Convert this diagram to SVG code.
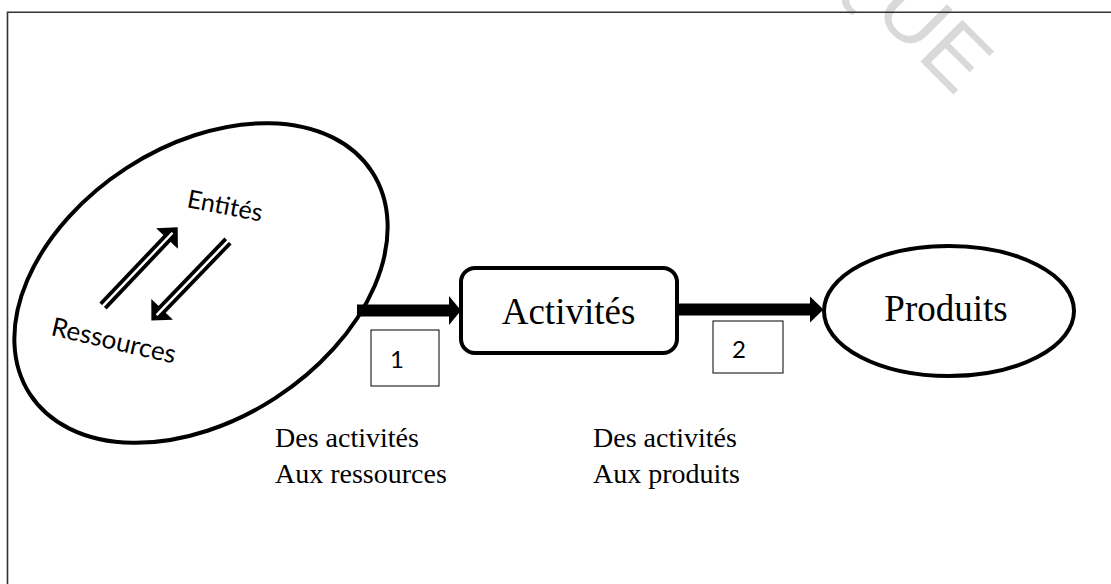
<svg xmlns="http://www.w3.org/2000/svg" width="1111" height="584" viewBox="0 0 1111 584">
  <style>
    .frame { stroke: #333; stroke-width: 1.6; fill: none; }
    .node { fill: #fff; stroke: #000; stroke-width: 4; }
    .serif { font-family: "Liberation Serif", "Times New Roman", serif; fill: #000; }
    .sans { font-family: Lato, "Liberation Sans", sans-serif; fill: #000; }
    .tag { fill: #fff; stroke: #000; stroke-width: 1; }
    .shaft { stroke: #000; stroke-width: 12; }
    .dbl { stroke: #000; stroke-width: 10; }
    .slit { stroke: #fff; stroke-width: 2.5; }
    .wm { font-family: "Liberation Sans", Arial, sans-serif; fill: #d9d9d9; }
  </style>
  <rect width="1111" height="584" fill="#fff"/>
  <text class="wm" font-size="86" text-anchor="end" transform="translate(956,97) rotate(45)">QUE</text>
  <path class="frame" d="M1111 12.3 H7.5 V584"/>

  <g id="ressources-entites">
    <ellipse class="node" cx="201" cy="283" rx="204" ry="137" transform="rotate(-33 201 283)"/>
    <text class="sans" font-size="25" transform="translate(186,207) rotate(11)">Entités</text>
    <text class="sans" font-size="26" transform="translate(50,335) rotate(13)">Ressources</text>
    <g transform="translate(103,306) rotate(-46.5)">
      <line class="dbl" x1="0" y1="0" x2="97" y2="0"/>
      <polygon points="108.5,0 93,-15 93,15" fill="#000"/>
      <line class="slit" x1="-2" y1="0" x2="101" y2="0"/>
    </g>
    <g transform="translate(228,241) rotate(133.9)">
      <line class="dbl" x1="0" y1="0" x2="99" y2="0"/>
      <polygon points="110.5,0 95,-15 95,15" fill="#000"/>
      <line class="slit" x1="-2" y1="0" x2="103" y2="0"/>
    </g>
  </g>

  <g id="activites">
    <rect class="node" x="461" y="268" width="216" height="85" rx="14"/>
    <text class="serif" font-size="37" x="568.5" y="324" text-anchor="middle">Activités</text>
  </g>

  <g id="produits">
    <ellipse class="node" cx="949" cy="311" rx="125" ry="65"/>
    <text class="serif" font-size="37" x="946" y="321" text-anchor="middle">Produits</text>
  </g>

  <g id="connectors">
    <line class="shaft" x1="357" y1="310.5" x2="451" y2="310.5"/>
    <polygon points="449,296 461,310.5 449,325" fill="#000"/>
    <line class="shaft" x1="678" y1="309.5" x2="812" y2="309.5"/>
    <polygon points="810,296.5 823.5,309.5 810,322.5" fill="#000"/>
  </g>

  <g id="label1">
    <rect class="tag" x="371" y="330" width="68" height="56"/>
    <text class="sans" font-size="24" x="390" y="368">1</text>
  </g>
  <g id="label2">
    <rect class="tag" x="713" y="321" width="70" height="52"/>
    <text class="sans" font-size="24" x="732" y="358">2</text>
  </g>

  <g id="caption1">
    <text class="serif" font-size="28" x="275" y="447">Des activités</text>
    <text class="serif" font-size="28" x="275" y="483">Aux ressources</text>
  </g>
  <g id="caption2">
    <text class="serif" font-size="28" x="593" y="447">Des activités</text>
    <text class="serif" font-size="28" x="593" y="483">Aux produits</text>
  </g>
</svg>
